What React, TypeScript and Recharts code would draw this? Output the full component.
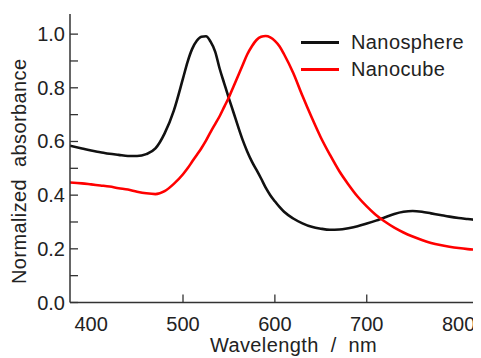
import React from 'react';
import { LineChart, Line, XAxis, YAxis } from 'recharts';

const wavelength = [377, 390, 400, 410, 420, 430, 440, 450, 460, 470, 480, 490, 500, 505, 510, 515, 520, 525, 530, 535, 540, 545, 550, 555, 560, 565, 570, 575, 580, 585, 590, 595, 600, 605, 610, 620, 630, 640, 650, 660, 670, 680, 690, 700, 710, 720, 730, 740, 750, 760, 770, 780, 790, 800, 810, 820];

const nanosphere = [0.584, 0.574, 0.566, 0.560, 0.554, 0.550, 0.546, 0.546, 0.553, 0.574, 0.630, 0.715, 0.835, 0.897, 0.945, 0.975, 0.990, 0.992, 0.972, 0.935, 0.870, 0.815, 0.760, 0.708, 0.655, 0.605, 0.562, 0.525, 0.494, 0.462, 0.428, 0.400, 0.377, 0.356, 0.338, 0.313, 0.295, 0.282, 0.275, 0.271, 0.272, 0.277, 0.284, 0.294, 0.305, 0.318, 0.330, 0.338, 0.341, 0.338, 0.332, 0.326, 0.320, 0.315, 0.311, 0.307];

const nanocube = [0.447, 0.444, 0.440, 0.436, 0.432, 0.426, 0.421, 0.413, 0.407, 0.404, 0.415, 0.442, 0.478, 0.500, 0.525, 0.550, 0.575, 0.603, 0.635, 0.665, 0.695, 0.730, 0.765, 0.805, 0.845, 0.885, 0.925, 0.955, 0.978, 0.990, 0.993, 0.988, 0.975, 0.955, 0.925, 0.855, 0.770, 0.690, 0.615, 0.550, 0.490, 0.440, 0.395, 0.358, 0.326, 0.301, 0.279, 0.261, 0.246, 0.233, 0.222, 0.214, 0.208, 0.203, 0.199, 0.196];

const xTicks = [400, 500, 600, 700, 800];
const xTickMarks = [500, 600, 700];
const yTicks = [0, 0.1, 0.2, 0.3, 0.4, 0.5, 0.6, 0.7, 0.8, 0.9, 1.0];
const yLabelTicks = [0, 0.2, 0.4, 0.6, 0.8, 1.0];

const seriesNames = ['Nanosphere', 'Nanocube'];
const seriesColors = ['#111111', '#ff0000'];

const data = wavelength.map((w, i) => ({ w, sphere: nanosphere[i], cube: nanocube[i] }));

const FONT = '"Liberation Sans", Arial, sans-serif';
const FRAME = '#333333';
const TL = 8;

const isLabelY = (v: number) => yLabelTicks.some((t) => Math.abs(t - v) < 1e-6);

const LeftTick = (props: any) => {
  const { x, y, payload } = props;
  const v = payload.value;
  return (
    <g>
      <line x1={x} y1={y} x2={x + TL} y2={y} stroke={FRAME} strokeWidth={1.3} />
      {isLabelY(v) && (
        <text x={x - 5} y={y + 7} textAnchor="end" fontSize={20} fontFamily={FONT} fill="#222">
          {v.toFixed(1)}
        </text>
      )}
    </g>
  );
};

const RightTick = (props: any) => {
  const { x, y } = props;
  return <line x1={x} y1={y} x2={x - TL} y2={y} stroke={FRAME} strokeWidth={1.3} />;
};

const BottomTick = (props: any) => {
  const { x, y, payload } = props;
  const v = payload.value;
  return (
    <g>
      {xTickMarks.includes(v) && <line x1={x} y1={y} x2={x} y2={y - TL} stroke={FRAME} strokeWidth={1.3} />}
      <text x={x} y={y + 28} textAnchor="middle" fontSize={20} fontFamily={FONT} fill="#222">
        {v}
      </text>
    </g>
  );
};

const TopTick = (props: any) => {
  const { x, y, payload } = props;
  const v = payload.value;
  return xTickMarks.includes(v) ? <line x1={x} y1={y} x2={x} y2={y + TL} stroke={FRAME} strokeWidth={1.3} /> : <g />;
};

const XTitle = (props: any) => {
  const vb = props.viewBox;
  return (
    <text
      x={vb.x + vb.width / 2 + 20}
      y={vb.y + 49}
      textAnchor="middle"
      fontSize={20}
      fontFamily={FONT}
      fill="#222"
      style={{ whiteSpace: 'pre', letterSpacing: 0.4 }}
    >
      {'Wavelength  /  nm'}
    </text>
  );
};

const YTitle = (props: any) => {
  const vb = props.viewBox;
  const cx = vb.x + 18;
  const cy = vb.y + vb.height / 2 + 13;
  return (
    <text
      x={cx}
      y={cy}
      transform={`rotate(-90 ${cx} ${cy})`}
      textAnchor="middle"
      fontSize={20}
      fontFamily={FONT}
      fill="#222"
      style={{ whiteSpace: 'pre', letterSpacing: 0.4 }}
    >
      {'Normalized  absorbance'}
    </text>
  );
};

export default function App() {
  return (
    <div style={{ position: 'relative', width: 473, height: 350 }}>
      <LineChart width={473} height={350} data={data} margin={{ top: 6, right: 4, left: 0, bottom: 0 }}>
        <XAxis
          dataKey="w"
          type="number"
          domain={[377, 820]}
          allowDataOverflow
          ticks={xTicks}
          tick={<BottomTick />}
          tickLine={false}
          tickSize={0}
          tickMargin={0}
          height={55.5}
          axisLine={{ stroke: FRAME, strokeWidth: 1.5 }}
          interval={0}
          label={<XTitle />}
        />
        <XAxis
          xAxisId="top"
          orientation="top"
          dataKey="w"
          type="number"
          domain={[377, 820]}
          allowDataOverflow
          ticks={xTicks}
          tick={<TopTick />}
          tickLine={false}
          tickSize={0}
          tickMargin={0}
          height={0}
          axisLine={{ stroke: FRAME, strokeWidth: 1.5 }}
          interval={0}
        />
        <YAxis
          type="number"
          domain={[0, 1.075]}
          allowDataOverflow
          ticks={yTicks}
          tick={<LeftTick />}
          tickLine={false}
          tickSize={0}
          tickMargin={0}
          width={62}
          axisLine={{ stroke: FRAME, strokeWidth: 1.5 }}
          interval={0}
          label={<YTitle />}
        />
        <YAxis
          yAxisId="right"
          orientation="right"
          type="number"
          domain={[0, 1.075]}
          allowDataOverflow
          ticks={yTicks}
          tick={<RightTick />}
          tickLine={false}
          tickSize={0}
          tickMargin={0}
          width={0}
          axisLine={{ stroke: FRAME, strokeWidth: 1.5 }}
          interval={0}
        />
        <Line type="monotone" dataKey="sphere" stroke={seriesColors[0]} strokeWidth={2.6} dot={false} isAnimationActive={false} />
        <Line type="monotone" dataKey="cube" stroke={seriesColors[1]} strokeWidth={2.6} dot={false} isAnimationActive={false} />
      </LineChart>
      <div style={{ position: 'absolute', left: 293, top: 21, fontFamily: FONT, fontSize: 20, color: '#222' }}>
        {seriesNames.map((n, i) => (
          <div key={n} style={{ display: 'flex', alignItems: 'center', height: 27 }}>
            <div style={{ width: 38, height: 3, background: seriesColors[i], marginRight: 12 }} />
            <span style={{ letterSpacing: 0.4 }}>{n}</span>
          </div>
        ))}
      </div>
    </div>
  );
}
